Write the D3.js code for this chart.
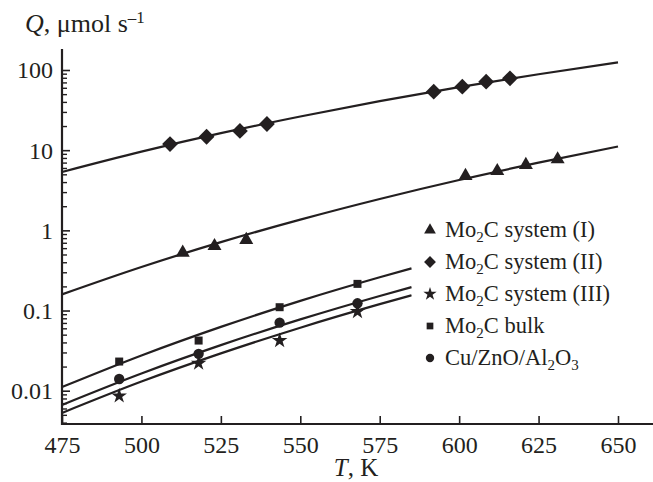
<!DOCTYPE html>
<html>
<head>
<meta charset="utf-8">
<script src="https://cdn.jsdelivr.net/npm/d3@7"></script>
<style>
  body { margin: 0; background: #fff; }
  text { font-family: "Liberation Serif", "DejaVu Serif", serif; fill: #231f20; }
</style>
</head>
<body>
<div id="chart"></div>
<script>
var svgWidth = 653;
var svgHeight = 482;
var ink = "#231f20";

// fitted curves
var fitTemps = [475, 500, 525, 550, 575, 600, 625, 650];
var fitLowTemps = [475, 500, 525, 550, 575, 585];
var fitSys2 = [5.35, 9.59, 16.3, 26.3, 40.9, 61.1, 88.5, 124.7];
var fitSys1 = [0.159, 0.349, 0.713, 1.36, 2.46, 4.24, 6.98, 11.1];
var fitBulk = [0.0111, 0.0275, 0.0625, 0.132, 0.260, 0.336];
var fitCu = [0.00665, 0.0164, 0.0370, 0.0775, 0.152, 0.196];
var fitSys3 = [0.00528, 0.0130, 0.0292, 0.0611, 0.120, 0.155];

// measured points
var tempSys1 = [513, 523, 533, 602, 612, 621, 631];
var qSys1 = [0.527, 0.638, 0.759, 4.77, 5.5, 6.54, 7.7];
var tempSys2 = [509, 520.5, 531, 539.5, 592, 601, 608.5, 616];
var qSys2 = [11.9, 14.7, 17.4, 21.2, 53.6, 61.9, 71.5, 78.8];
var tempLow = [493, 518, 543.5, 568];
var qSys3 = [0.0086, 0.0220, 0.0422, 0.0969];
var qBulk = [0.0231, 0.0422, 0.110, 0.215];
var qCu = [0.0140, 0.0288, 0.0706, 0.123];

var xTicks = [475, 500, 525, 550, 575, 600, 625, 650];
var yTicks = [0.01, 0.1, 1, 10, 100];

var legendNames = [
	["Mo", "2", "C system (I)"],
	["Mo", "2", "C system (II)"],
	["Mo", "2", "C system (III)"],
	["Mo", "2", "C bulk"],
	["Cu/ZnO/Al", "2", "O", "3"]
];

var svg = d3.select("#chart")
	.append("svg")
	.attr("width", svgWidth)
	.attr("height", svgHeight);

var x = d3.scaleLinear().domain([475, 650]).range([62, 618]);
var y = d3.scaleLog().domain([0.01, 100]).range([390.7, 70]);

var frameLeft = 62, frameRight = 653, frameTop = 49, frameBottom = 424;

// symbols
var sym = {
	tri: function (s) { return d3.symbol().type(d3.symbolTriangle).size(s)(); },
	dia: function (s) { return d3.symbol().type(d3.symbolSquare).size(s)(); },
	star: function (s) { return d3.symbol().type(d3.symbolStar).size(s)(); },
	sq: function (s) { return d3.symbol().type(d3.symbolSquare).size(s)(); },
	circ: function (s) { return d3.symbol().type(d3.symbolCircle).size(s)(); }
};

// y axis: ticks point into the plot
var yMinor = [];
for (var e = -3; e <= 1; e++) {
	for (var k = 2; k <= 9; k++) {
		var v = k * Math.pow(10, e);
		if (y(v) <= frameBottom && y(v) >= frameTop) yMinor.push(v);
	}
}

svg.append("g")
	.attr("transform", "translate(" + frameLeft + ",0)")
	.call(d3.axisLeft(y).tickValues(yMinor).tickSize(-5).tickFormat(""))
	.call(g => g.select(".domain").remove())
	.call(g => g.selectAll("line").attr("stroke", ink).attr("stroke-width", 1.4));

svg.append("g")
	.attr("transform", "translate(" + frameLeft + ",0)")
	.call(d3.axisLeft(y).tickValues(yTicks).tickSize(-8).tickPadding(9)
		.tickFormat(d => String(d)))
	.call(g => g.select(".domain").remove())
	.call(g => g.selectAll("line").attr("stroke", ink).attr("stroke-width", 1.6))
	.call(g => g.selectAll("text")
		.attr("font-size", 24)
		.attr("font-family", "Liberation Serif, serif")
		.attr("fill", ink)
		.attr("dy", "0.33em"));

// x axis
svg.append("g")
	.attr("transform", "translate(0," + frameBottom + ")")
	.call(d3.axisBottom(x).tickValues(xTicks).tickSize(-8).tickPadding(10))
	.call(g => g.select(".domain").remove())
	.call(g => g.selectAll("line").attr("stroke", ink).attr("stroke-width", 1.6))
	.call(g => g.selectAll("text")
		.attr("font-size", 24)
		.attr("font-family", "Liberation Serif, serif")
		.attr("fill", ink)
		.attr("dy", "0.78em"));

svg.append("line")
	.attr("x1", frameLeft).attr("x2", frameLeft)
	.attr("y1", frameTop).attr("y2", frameBottom + 1)
	.attr("stroke", ink).attr("stroke-width", 2.2);
svg.append("line")
	.attr("x1", frameLeft - 1).attr("x2", frameRight)
	.attr("y1", frameBottom).attr("y2", frameBottom)
	.attr("stroke", ink).attr("stroke-width", 2.2);

// axis titles
var yTitle = svg.append("text")
	.attr("x", 25).attr("y", 32)
	.attr("font-size", 26);
yTitle.append("tspan").attr("font-style", "italic").text("Q");
yTitle.append("tspan").text(", \u03bcmol s");
yTitle.append("tspan").attr("font-size", 17).attr("dy", -9).text("\u20131");

var xTitle = svg.append("text")
	.attr("x", 356).attr("y", 476)
	.attr("text-anchor", "middle")
	.attr("font-size", 25);
xTitle.append("tspan").attr("font-style", "italic").text("T");
xTitle.append("tspan").text(", K");

// fitted curves
var line = d3.line()
	.x(d => x(d[0]))
	.y(d => y(d[1]))
	.curve(d3.curveMonotoneX);

var fits = [
	d3.zip(fitTemps, fitSys2),
	d3.zip(fitTemps, fitSys1),
	d3.zip(fitLowTemps, fitBulk),
	d3.zip(fitLowTemps, fitCu),
	d3.zip(fitLowTemps, fitSys3)
];

svg.selectAll("path.fit")
	.data(fits)
	.enter()
	.append("path")
	.attr("class", "fit")
	.attr("d", line)
	.attr("fill", "none")
	.attr("stroke", ink)
	.attr("stroke-width", 2.2);

// markers
var series = [
	{ t: tempSys1, q: qSys1, shape: sym.tri(85), rot: 0 },
	{ t: tempSys2, q: qSys2, shape: sym.dia(125), rot: 45 },
	{ t: tempLow, q: qSys3, shape: sym.star(75), rot: 0 },
	{ t: tempLow, q: qBulk, shape: sym.sq(64), rot: 0 },
	{ t: tempLow, q: qCu, shape: sym.circ(85), rot: 0 }
];

series.forEach(function (s) {
	svg.append("g").selectAll("path")
		.data(d3.zip(s.t, s.q))
		.enter()
		.append("path")
		.attr("d", s.shape)
		.attr("transform", d => "translate(" + x(d[0]) + "," + y(d[1]) + ") rotate(" + s.rot + ")")
		.attr("fill", ink);
});

// legend
var legendShapes = [sym.tri(60), sym.dia(70), sym.star(55), sym.sq(45), sym.circ(55)];
var legendRot = [0, 45, 0, 0, 0];

var legend = svg.append("g").attr("transform", "translate(430,230)");

legendNames.forEach(function (parts, i) {
	var row = legend.append("g").attr("transform", "translate(0," + (i * 32) + ")");
	row.append("path")
		.attr("d", legendShapes[i])
		.attr("transform", "rotate(" + legendRot[i] + ")")
		.attr("fill", ink);
	var t = row.append("text")
		.attr("x", 15).attr("y", 7)
		.attr("font-size", 22.5);
	parts.forEach(function (p, j) {
		var sub = (j % 2 === 1);
		t.append("tspan")
			.attr("font-size", sub ? 15 : 22.5)
			.attr("dy", sub ? 5 : (j > 0 ? -5 : 0))
			.text(p);
	});
});
</script>
</body>
</html>
